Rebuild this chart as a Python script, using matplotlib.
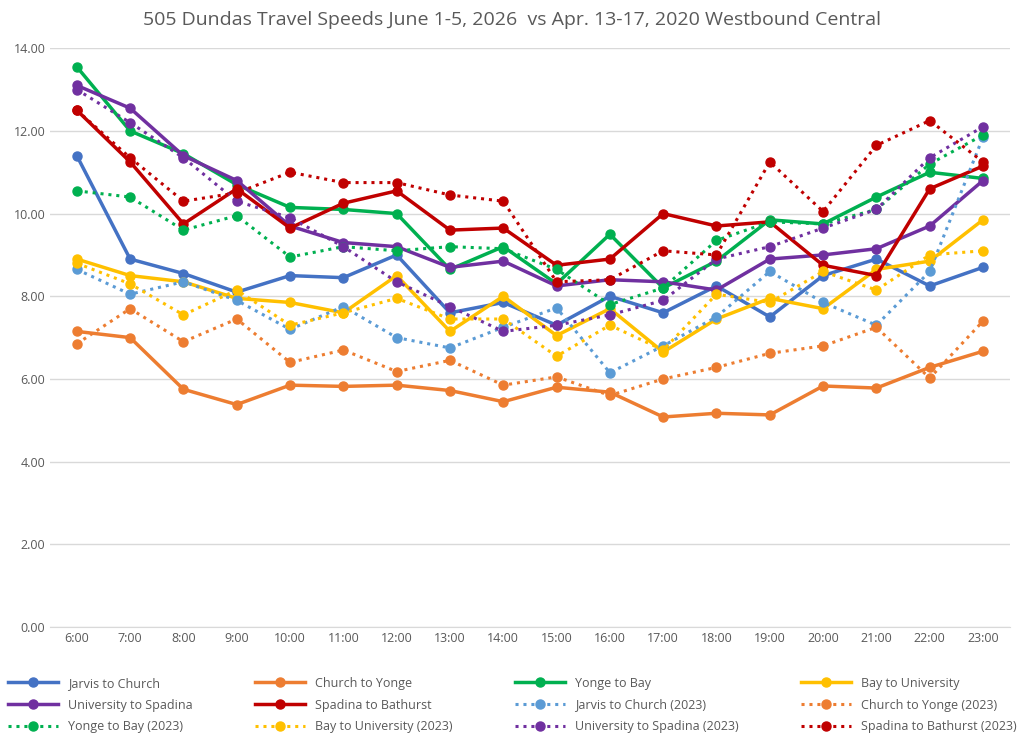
import matplotlib; matplotlib.use("Agg"); import matplotlib.pyplot as plt

plt.rcParams['font.family'] = ['Open Sans', 'DejaVu Sans']

hours = [f"{h}:00" for h in range(6, 24)]

jarvis = [11.4, 8.9, 8.55, 8.1, 8.5, 8.45, 9.0, 7.6, 7.85, 7.3, 8.0, 7.6, 8.25, 7.5, 8.5, 8.9, 8.25, 8.7]
church = [7.15, 7.0, 5.75, 5.38, 5.85, 5.82, 5.85, 5.72, 5.45, 5.8, 5.68, 5.08, 5.17, 5.13, 5.83, 5.78, 6.28, 6.67]
yonge = [13.55, 12.0, 11.45, 10.7, 10.15, 10.1, 10.0, 8.65, 9.2, 8.3, 9.5, 8.2, 8.85, 9.85, 9.75, 10.4, 11.0, 10.85]
bay = [8.9, 8.5, 8.35, 7.95, 7.85, 7.6, 8.5, 7.15, 8.0, 7.05, 7.7, 6.65, 7.45, 7.95, 7.7, 8.65, 8.85, 9.85]
univ = [13.1, 12.55, 11.4, 10.8, 9.7, 9.3, 9.2, 8.7, 8.85, 8.25, 8.4, 8.35, 8.15, 8.9, 9.0, 9.15, 9.7, 10.8]
spadina = [12.5, 11.25, 9.75, 10.6, 9.65, 10.25, 10.55, 9.6, 9.65, 8.75, 8.9, 10.0, 9.7, 9.8, 8.75, 8.5, 10.6, 11.15]

jarvis23 = [8.65, 8.05, 8.35, 7.9, 7.2, 7.75, 7.0, 6.75, 7.25, 7.72, 6.15, 6.8, 7.5, 8.6, 7.85, 7.3, 8.6, 11.85]
church23 = [6.85, 7.7, 6.9, 7.45, 6.4, 6.7, 6.18, 6.45, 5.85, 6.05, 5.6, 6.0, 6.28, 6.62, 6.8, 7.25, 6.02, 7.4]
yonge23 = [10.55, 10.4, 9.6, 9.95, 8.95, 9.2, 9.1, 9.2, 9.15, 8.65, 7.8, 8.2, 9.35, 9.8, 9.75, 10.1, 11.2, 11.9]
bay23 = [8.8, 8.3, 7.55, 8.15, 7.3, 7.6, 7.95, 7.45, 7.45, 6.55, 7.3, 6.7, 8.05, 7.85, 8.6, 8.15, 9.0, 9.1]
univ23 = [13.0, 12.2, 11.35, 10.3, 9.9, 9.2, 8.35, 7.75, 7.15, 7.3, 7.55, 7.9, 8.9, 9.2, 9.65, 10.1, 11.35, 12.1]
spadina23 = [12.5, 11.35, 10.3, 10.5, 11.0, 10.75, 10.75, 10.45, 10.3, 8.35, 8.4, 9.1, 9.0, 11.25, 10.05, 11.65, 12.25, 11.25]

solid = [("Jarvis to Church", jarvis, "#4472C4"), ("Church to Yonge", church, "#ED7D31"),
         ("Yonge to Bay", yonge, "#00B050"), ("Bay to University", bay, "#FFC000"),
         ("University to Spadina", univ, "#7030A0"), ("Spadina to Bathurst", spadina, "#C00000")]
dotted = [("Jarvis to Church (2023)", jarvis23, "#5B9BD5"), ("Church to Yonge (2023)", church23, "#ED7D31"),
          ("Yonge to Bay (2023)", yonge23, "#00B050"), ("Bay to University (2023)", bay23, "#FFC000"),
          ("University to Spadina (2023)", univ23, "#7030A0"), ("Spadina to Bathurst (2023)", spadina23, "#C00000")]

fig = plt.figure(figsize=(10.24, 7.42), dpi=100)
ax = fig.add_axes([0.049, 0.155, 0.937, 0.78])
x = range(len(hours))
for name, v, c in solid:
    ax.plot(x, v, color=c, lw=2.5, marker="o", ms=6.5, label=name)
for name, v, c in dotted:
    ax.plot(x, v, color=c, lw=2.2, ls=(0, (1, 1.6)), marker="o", ms=6.5, label=name)

ax.set_ylim(0, 14); ax.set_xlim(-0.5, 17.5)
ax.set_yticks(range(0, 15, 2)); ax.set_yticklabels([f"{v:.2f}" for v in range(0, 15, 2)])
ax.set_xticks(list(x)); ax.set_xticklabels(hours)
ax.tick_params(labelsize=9, colors="#595959", length=0)
ax.grid(axis="y", color="#D9D9D9", lw=1)
ax.set_axisbelow(True)
for s in ["top", "right", "left"]: ax.spines[s].set_visible(False)
ax.spines["bottom"].set_color("#D9D9D9")
fig.suptitle("505 Dundas Travel Speeds June 1-5, 2026  vs Apr. 13-17, 2020 Westbound Central",
             y=0.985, fontsize=14, color="#595959")

# legend reads row by row in the reference, matplotlib fills by column
h, l = ax.get_legend_handles_labels()
order = [0, 4, 8, 1, 5, 9, 2, 6, 10, 3, 7, 11]
fig.legend([h[i] for i in order], [l[i] for i in order], loc="lower center",
           bbox_to_anchor=(0.5, 0.0), ncol=4, frameon=False, fontsize=9,
           labelcolor="#595959", handlelength=4, columnspacing=5, borderaxespad=0.3,
           labelspacing=0.7)
fig.savefig("out.png", dpi=100)
